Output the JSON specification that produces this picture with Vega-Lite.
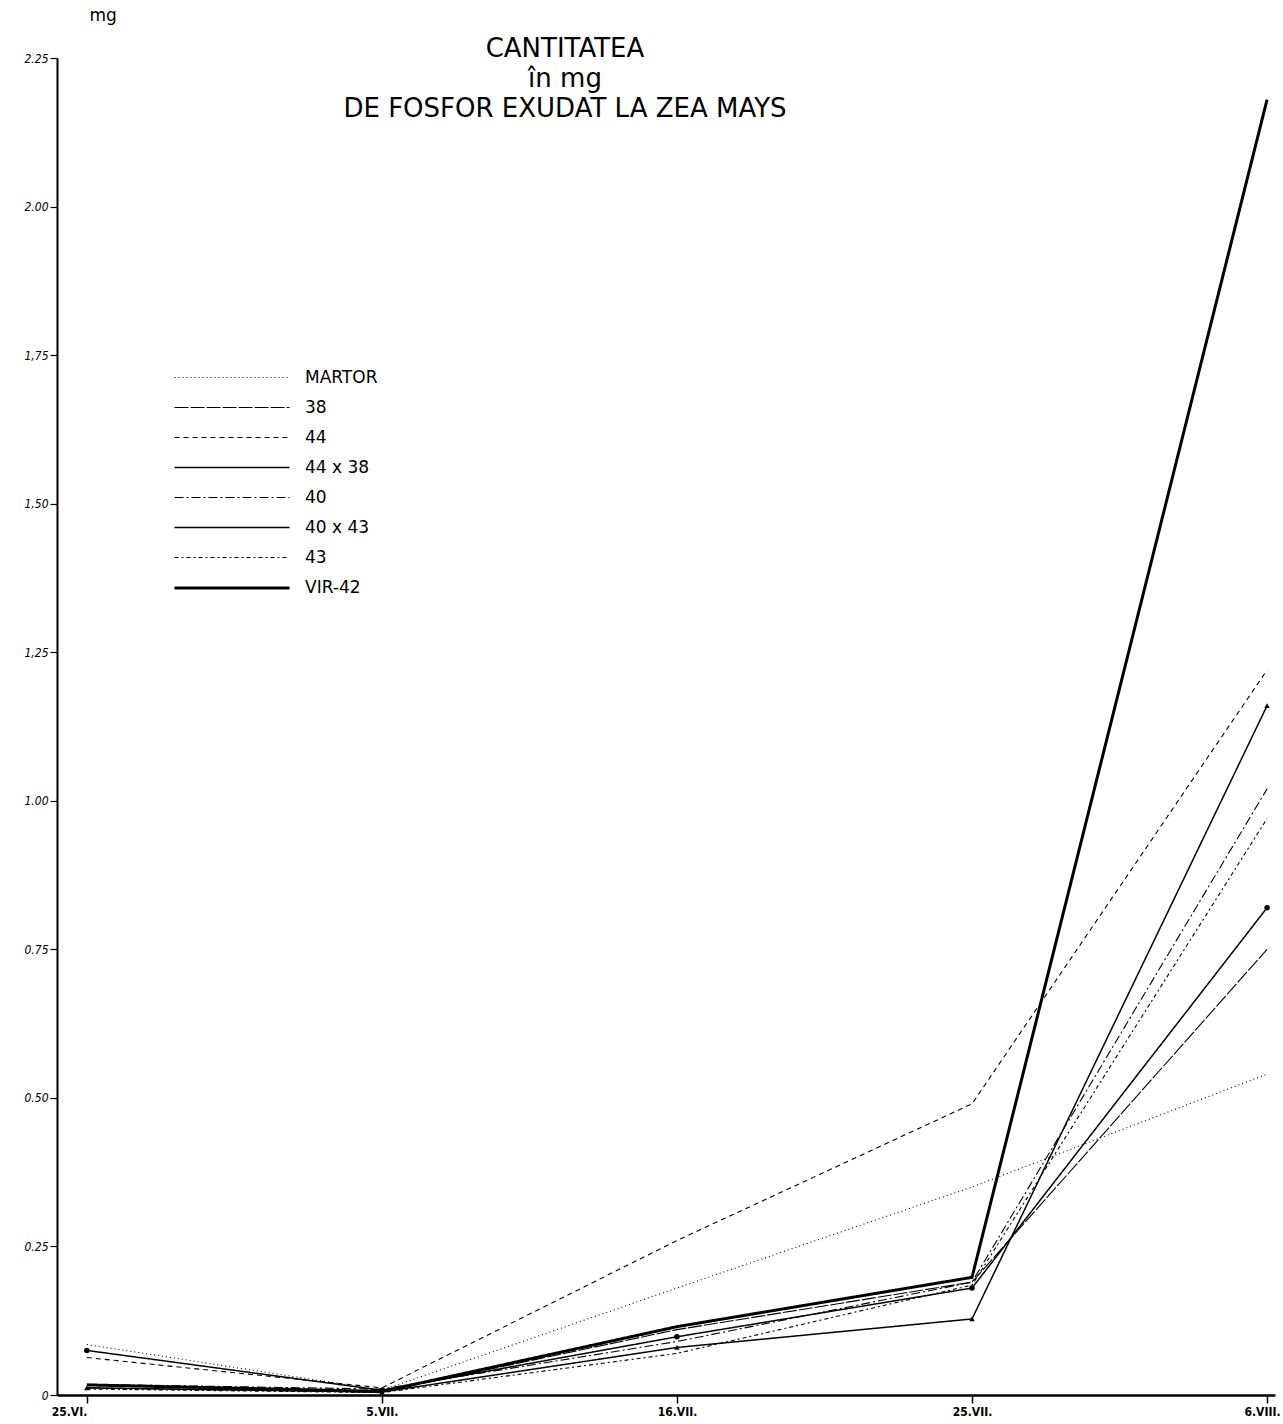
{
  "$schema": "https://vega.github.io/schema/vega-lite/v6.json",
  "width": 1218,
  "height": 1337,
  "autosize": {"type": "none"},
  "padding": {"left": 57, "top": 58, "right": 8, "bottom": 29},
  "background": "white",
  "title": {
    "text": ["CANTITATEA", "în mg", "DE FOSFOR EXUDAT LA ZEA MAYS"],
    "fontSize": 26,
    "fontWeight": "normal",
    "lineHeight": 30,
    "anchor": "middle",
    "frame": "group",
    "offset": -116,
    "dx": -101,
    "color": "black",
    "font": "DejaVu Sans"
  },
  "config": {"view": {"stroke": null}, "font": "DejaVu Sans"},
  "data": {
    "values": [
      {"series": "MARTOR", "date": "25.VI.", "value": 0.085},
      {"series": "MARTOR", "date": "5.VII.", "value": 0.008},
      {"series": "MARTOR", "date": "16.VII.", "value": 0.18},
      {"series": "MARTOR", "date": "25.VII.", "value": 0.35},
      {"series": "MARTOR", "date": "6.VIII.", "value": 0.54},
      {"series": "38", "date": "25.VI.", "value": 0.012},
      {"series": "38", "date": "5.VII.", "value": 0.005},
      {"series": "38", "date": "16.VII.", "value": 0.11},
      {"series": "38", "date": "25.VII.", "value": 0.19},
      {"series": "38", "date": "6.VIII.", "value": 0.75},
      {"series": "44", "date": "25.VI.", "value": 0.063},
      {"series": "44", "date": "5.VII.", "value": 0.012},
      {"series": "44", "date": "16.VII.", "value": 0.26},
      {"series": "44", "date": "25.VII.", "value": 0.49},
      {"series": "44", "date": "6.VIII.", "value": 1.22},
      {"series": "44 x 38", "date": "25.VI.", "value": 0.075},
      {"series": "44 x 38", "date": "5.VII.", "value": 0.008},
      {"series": "44 x 38", "date": "16.VII.", "value": 0.098},
      {"series": "44 x 38", "date": "25.VII.", "value": 0.18},
      {"series": "44 x 38", "date": "6.VIII.", "value": 0.82},
      {"series": "40", "date": "25.VI.", "value": 0.018},
      {"series": "40", "date": "5.VII.", "value": 0.01},
      {"series": "40", "date": "16.VII.", "value": 0.09},
      {"series": "40", "date": "25.VII.", "value": 0.19},
      {"series": "40", "date": "6.VIII.", "value": 1.02},
      {"series": "40 x 43", "date": "25.VI.", "value": 0.012},
      {"series": "40 x 43", "date": "5.VII.", "value": 0.005},
      {"series": "40 x 43", "date": "16.VII.", "value": 0.08},
      {"series": "40 x 43", "date": "25.VII.", "value": 0.128},
      {"series": "40 x 43", "date": "6.VIII.", "value": 1.16},
      {"series": "43", "date": "25.VI.", "value": 0.01},
      {"series": "43", "date": "5.VII.", "value": 0.004},
      {"series": "43", "date": "16.VII.", "value": 0.07},
      {"series": "43", "date": "25.VII.", "value": 0.185},
      {"series": "43", "date": "6.VIII.", "value": 0.97},
      {"series": "VIR-42", "date": "25.VI.", "value": 0.017},
      {"series": "VIR-42", "date": "5.VII.", "value": 0.006},
      {"series": "VIR-42", "date": "16.VII.", "value": 0.115},
      {"series": "VIR-42", "date": "25.VII.", "value": 0.198},
      {"series": "VIR-42", "date": "6.VIII.", "value": 2.18}
    ]
  },
  "encoding": {
    "x": {
      "field": "date",
      "type": "ordinal",
      "scale": {"type": "point", "domain": ["25.VI.", "5.VII.", "16.VII.", "25.VII.", "6.VIII."], "padding": 0.064, "align": 0.79},
      "axis": {
        "title": null,
        "labelAngle": 0,
        "labelAlign": {"condition": {"test": "datum.index == 0 || datum.index == 1", "value": "right"}, "value": "center"},
        "labelOffset": {"condition": {"test": "datum.index == 1", "value": 13}, "value": 0},
        "domainColor": "black",
        "domainWidth": 2.5,
        "tickColor": "black",
        "tickWidth": 1.5,
        "tickSize": 8,
        "labelFontSize": 12,
        "labelFontWeight": "bold",
        "labelFont": "DejaVu Sans Condensed",
        "labelColor": "black",
        "labelPadding": 3,
        "labelFlush": false,
        "labelBound": false,
        "grid": false
      }
    },
    "y": {
      "field": "value",
      "type": "quantitative",
      "scale": {"domain": [0, 2.25], "nice": false},
      "axis": {
        "title": "mg",
        "titleAngle": 0,
        "titleX": 32,
        "titleY": -43,
        "titleAlign": "left",
        "titleBaseline": "middle",
        "titleFontSize": 17,
        "titleFontWeight": "normal",
        "titleColor": "black",
        "values": [0, 0.25, 0.5, 0.75, 1, 1.25, 1.5, 1.75, 2, 2.25],
        "labelExpr": "datum.value == 0 ? '0' : (datum.value > 1.2 && datum.value < 1.8 ? replace(format(datum.value, '.2f'), '.', ',') : format(datum.value, '.2f'))",
        "labelFontSize": 12,
        "labelFontStyle": "italic",
        "labelColor": "black",
        "labelFont": "DejaVu Sans Condensed",
        "domainColor": "black",
        "domainWidth": 2,
        "tickColor": "black",
        "tickSize": 7,
        "tickWidth": 1.2,
        "labelPadding": 2,
        "grid": false
      }
    }
  },
  "layer": [
    {
      "mark": {"type": "line", "color": "black"},
      "encoding": {
        "order": {"value": null},
        "strokeDash": {
          "field": "series",
          "type": "nominal",
          "scale": {
            "domain": ["MARTOR", "38", "44", "44 x 38", "40", "40 x 43", "43", "VIR-42"],
            "range": [[1, 3], [14, 2], [5, 4], [1, 0], [9, 3, 2, 3], [1, 0], [4, 3, 2, 3], [1, 0]]
          },
          "legend": {
            "title": null,
            "orient": "none",
            "legendX": 162,
            "legendY": 307,
            "symbolType": "M-5,0H5",
            "symbolSize": 529,
            "symbolStrokeColor": "black",
            "labelFontSize": 17,
            "labelFont": "DejaVu Sans",
            "labelColor": "black",
            "rowPadding": 9,
            "labelOffset": 60
          }
        },
        "strokeWidth": {
          "field": "series",
          "type": "nominal",
          "scale": {
            "type": "ordinal",
            "domain": ["MARTOR", "38", "44", "44 x 38", "40", "40 x 43", "43", "VIR-42"],
            "range": [1.1, 1.1, 1.1, 1.5, 1.1, 1.5, 1.1, 3]
          },
          "legend": {
            "title": null,
            "orient": "none",
            "legendX": 162,
            "legendY": 307,
            "symbolType": "M-5,0H5",
            "symbolSize": 529,
            "symbolStrokeColor": "black",
            "labelFontSize": 17,
            "labelFont": "DejaVu Sans",
            "labelColor": "black",
            "rowPadding": 9,
            "labelOffset": 60
          }
        }
      }
    },
    {
      "transform": [{"filter": "datum.series == '44 x 38' || datum.series == '40 x 43'"}],
      "mark": {"type": "point", "filled": true, "color": "black", "size": 30, "opacity": 1},
      "encoding": {
        "shape": {
          "field": "series",
          "type": "nominal",
          "scale": {"domain": ["44 x 38", "40 x 43"], "range": ["circle", "triangle-up"]},
          "legend": null
        }
      }
    }
  ]
}
